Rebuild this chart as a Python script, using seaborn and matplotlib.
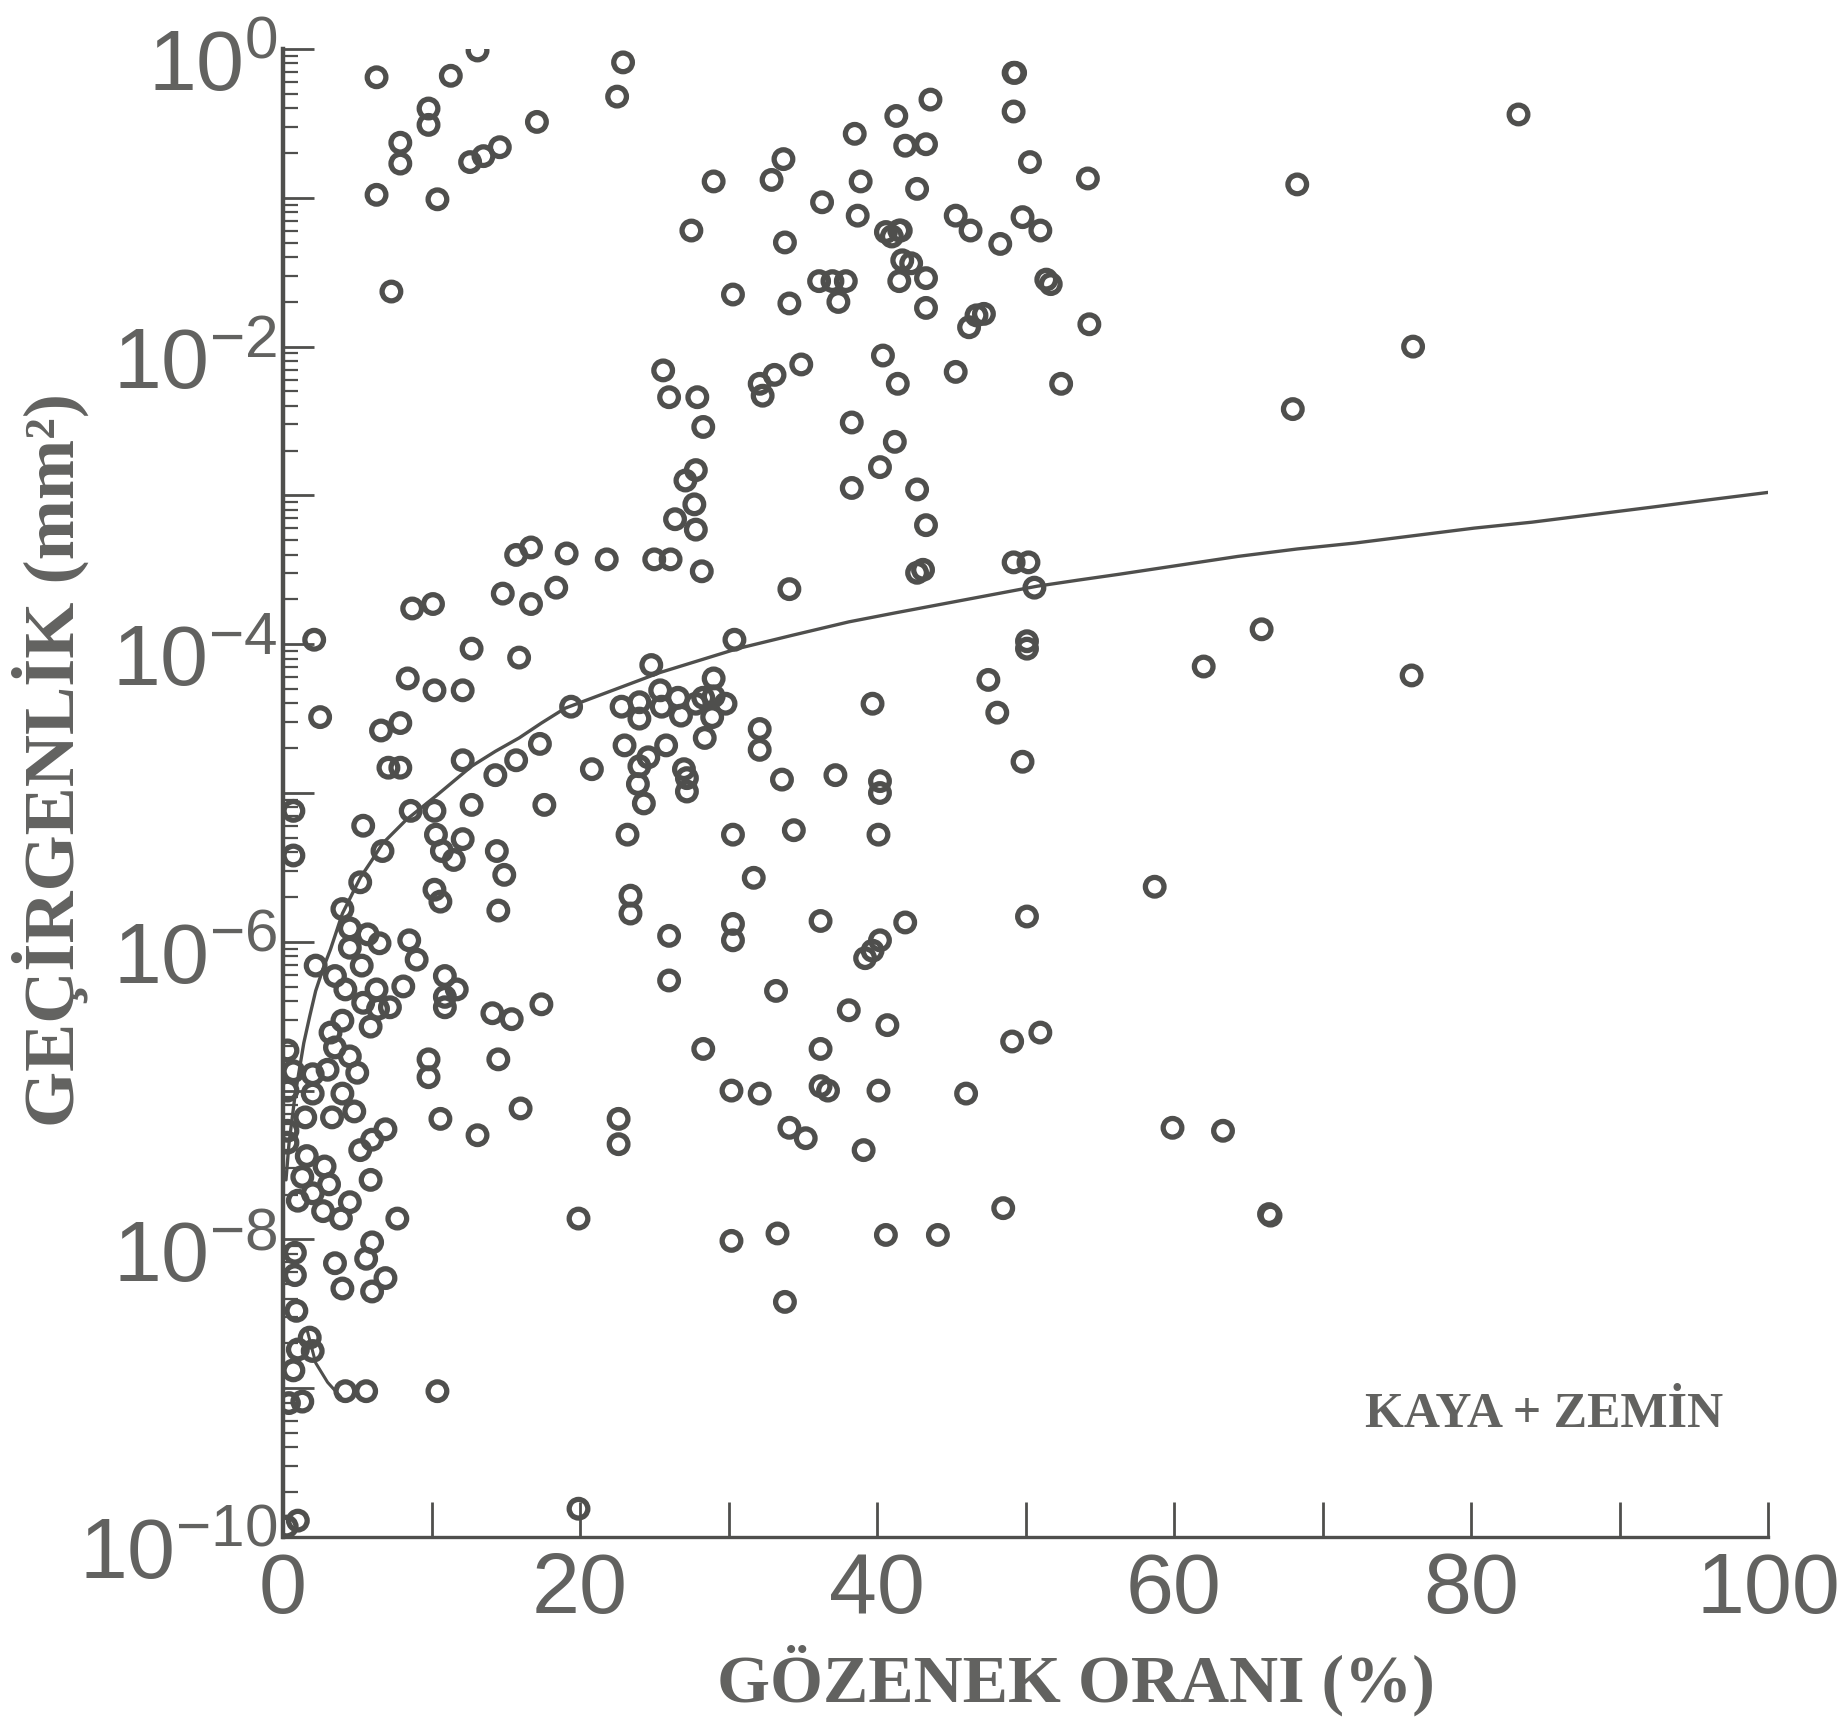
#!/usr/bin/env python3
# -*- coding: utf-8 -*-
import numpy as np
import pandas as pd
import seaborn as sns
import matplotlib.pyplot as plt
from matplotlib.ticker import FixedLocator, LogLocator, NullFormatter
from matplotlib.transforms import ScaledTranslation

# void ratio (%) and log10 of permeability (mm2)
upper_x = [6.3, 11.3, 13.1, 22.9, 22.5, 9.8, 9.8, 7.9, 7.9, 6.3, 10.4, 12.6, 13.5, 14.6, 17.1, 7.3,
           29.0, 27.5, 30.3, 32.9, 33.7, 33.8, 34.1, 36.3, 38.5, 38.9, 38.7, 36.1, 37.0, 37.9, 37.4,
           41.3, 43.6, 41.9, 43.3, 42.7, 40.6, 41.5, 41.0, 41.6, 41.7, 42.3, 41.5, 43.3, 43.3, 45.3, 46.3,
           48.3, 49.2, 49.3, 49.2, 50.3, 49.8, 51.0, 51.4, 51.7, 54.2, 54.3, 52.4, 45.3, 46.2, 46.7, 47.2,
           40.4, 41.4, 34.9, 33.1, 32.1, 32.3, 83.2, 68.3, 76.1, 68.0]
upper_e = [-0.19, -0.18, -0.01, -0.09, -0.32, -0.40, -0.51, -0.63, -0.77, -0.98, -1.01, -0.76, -0.72, -0.66, -0.49, -1.63,
           -0.89, -1.22, -1.65, -0.88, -0.74, -1.30, -1.71, -1.03, -0.57, -0.89, -1.12, -1.56, -1.56, -1.56, -1.70,
           -0.45, -0.34, -0.65, -0.64, -0.94, -1.23, -1.22, -1.26, -1.22, -1.42, -1.44, -1.56, -1.54, -1.74, -1.12, -1.22,
           -1.31, -0.16, -0.16, -0.42, -0.76, -1.13, -1.22, -1.55, -1.58, -0.87, -1.85, -2.25, -2.17, -1.87, -1.79, -1.78,
           -2.06, -2.25, -2.12, -2.19, -2.25, -2.33, -0.44, -0.91, -2.00, -2.42]

mid_x = [25.6, 26.0, 27.9, 28.3, 38.3, 41.2, 40.2, 38.3, 42.7, 43.3, 27.8, 27.1, 27.7, 26.4, 27.8, 25.0, 26.1, 28.2,
         21.8, 19.1, 16.7, 15.7, 18.4, 16.7, 14.8, 10.1, 8.7, 34.1, 42.7, 43.1, 49.2, 50.2, 50.6, 30.4, 2.1, 2.5,
         12.7, 15.9, 8.4, 10.2, 12.1, 7.9, 6.6, 7.1, 7.9, 12.1, 14.3, 15.7, 17.3, 19.4, 20.8, 17.6, 8.6, 10.2, 12.7,
         0.7, 0.7, 5.4, 6.7, 5.2, 4.0, 10.3, 12.1, 10.7, 11.5, 14.4, 14.9, 10.2, 10.6, 14.5,
         50.1, 50.1, 65.9, 62.0, 76.0, 47.5, 48.1, 49.8, 39.7, 58.7, 50.1, 41.9]
mid_e = [-2.16, -2.34, -2.34, -2.54, -2.51, -2.64, -2.81, -2.95, -2.96, -3.20, -2.83, -2.90, -3.06, -3.16, -3.23, -3.43, -3.43, -3.51,
         -3.43, -3.39, -3.35, -3.40, -3.62, -3.73, -3.66, -3.73, -3.76, -3.63, -3.52, -3.50, -3.45, -3.45, -3.62, -3.97, -3.97, -4.49,
         -4.03, -4.09, -4.23, -4.31, -4.31, -4.53, -4.58, -4.83, -4.83, -4.78, -4.88, -4.78, -4.67, -4.42, -4.84, -5.08, -5.12, -5.12, -5.08,
         -5.12, -5.42, -5.22, -5.39, -5.60, -5.78, -5.28, -5.31, -5.39, -5.45, -5.39, -5.55, -5.65, -5.73, -5.79,
         -3.98, -4.03, -3.90, -4.15, -4.21, -4.24, -4.46, -4.79, -4.40, -5.63, -5.83, -5.87]

cluster_x = [24.8, 22.8, 24.0, 24.0, 25.4, 25.5, 26.6, 26.8, 27.8, 28.3, 29.0, 29.0, 29.8, 28.4, 28.9, 25.8, 24.6, 23.0, 24.0, 23.9,
             24.3, 27.0, 27.2, 27.2, 32.1, 32.1, 33.6, 37.2, 40.2, 40.2, 30.3, 23.2, 34.4, 40.1, 31.7, 36.2, 30.3, 30.3, 23.4, 23.4,
             26.0, 40.2, 39.7, 39.2, 26.0, 33.2, 38.1, 40.7, 51.0, 49.1, 28.3, 36.2, 36.2, 36.7, 30.2, 32.1, 40.1, 46.0, 22.6, 22.6,
             34.1, 35.2, 39.1, 59.9, 63.3, 66.4, 66.5, 48.5, 19.9, 33.3, 30.2, 40.6, 44.1, 33.8, 10.4, 19.9]
cluster_e = [-4.14, -4.42, -4.39, -4.50, -4.31, -4.42, -4.36, -4.48, -4.40, -4.36, -4.23, -4.35, -4.40, -4.63, -4.49, -4.68, -4.76, -4.68, -4.82, -4.94,
             -5.07, -4.84, -4.90, -4.99, -4.57, -4.71, -4.91, -4.88, -4.92, -5.00, -5.28, -5.28, -5.25, -5.28, -5.57, -5.86, -5.88, -5.99, -5.69, -5.81,
             -5.96, -5.99, -6.06, -6.11, -6.26, -6.33, -6.46, -6.56, -6.61, -6.67, -6.72, -6.72, -6.97, -7.00, -7.00, -7.02, -7.00, -7.02, -7.19, -7.36,
             -7.25, -7.32, -7.40, -7.25, -7.27, -7.83, -7.84, -7.79, -7.86, -7.96, -8.01, -7.97, -7.97, -8.42, -9.02, -9.81]

low_x = [10.9, 11.7, 10.9, 10.9, 14.1, 15.4, 17.4, 14.5, 9.8, 9.8, 16.0, 10.6, 13.1,
         4.5, 5.7, 6.5, 4.5, 8.5, 9.0, 2.2, 5.3, 3.5, 4.2, 6.3, 8.1, 5.4, 7.2, 6.4, 4.0, 5.9, 3.2, 3.5, 4.5, 3.0, 5.0, 2.0, 0.3,
         0.7, 0.3, 2.0, 4.0, 4.8, 3.3, 1.5, 0.3, 0.3, 6.9, 6.0, 5.2, 1.6, 2.8, 1.3, 3.1, 5.9, 1.0, 2.0, 2.7, 4.5, 3.9, 7.7,
         6.0, 5.6, 3.5, 0.8, 0.8, 4.0, 6.0, 6.9, 0.9, 1.8, 1.0, 2.0, 0.7, 0.4, 1.3, 4.2, 5.6, 0.25, 1.0]
low_e = [-6.23, -6.32, -6.37, -6.44, -6.48, -6.52, -6.42, -6.79, -6.79, -6.91, -7.12, -7.19, -7.30,
         -5.91, -5.95, -6.01, -6.04, -5.99, -6.12, -6.16, -6.16, -6.23, -6.32, -6.32, -6.30, -6.41, -6.44, -6.45, -6.53, -6.57, -6.61, -6.71, -6.77, -6.86, -6.88, -6.89, -6.73,
         -6.87, -7.00, -7.02, -7.02, -7.14, -7.18, -7.18, -7.27, -7.35, -7.26, -7.33, -7.40, -7.44, -7.51, -7.58, -7.63, -7.60, -7.74, -7.69, -7.81, -7.75, -7.86, -7.86,
         -8.02, -8.13, -8.16, -8.09, -8.24, -8.33, -8.35, -8.26, -8.48, -8.66, -8.74, -8.75, -8.88, -9.10, -9.09, -9.02, -9.02, -9.93, -9.89]

# trend line
curve_x = [0.2, 0.4, 0.8, 1.4, 1.8, 2.2, 2.7, 3.2, 4.0, 4.6, 5.2, 6.0, 6.7, 7.5, 8.3, 9.3, 10.3, 11.5, 12.7, 14.3, 15.9,
           17.4, 19.0, 20.6, 22.2, 23.8, 25.4, 28.0, 30.6, 34.3, 38.1, 41.2, 44.4, 47.6, 50.8, 53.5, 56.3, 60.3, 64.3,
           68.3, 72.2, 76.2, 80.2, 84.1, 88.1, 92.1, 96.0, 100.0]
curve_e = [-7.6, -7.36, -7.04, -6.68, -6.50, -6.33, -6.18, -6.05, -5.81, -5.69, -5.57, -5.45, -5.34, -5.26, -5.18, -5.10, -5.02, -4.92, -4.82, -4.72, -4.63,
           -4.53, -4.43, -4.37, -4.31, -4.25, -4.19, -4.11, -4.03, -3.94, -3.85, -3.79, -3.73, -3.67, -3.61, -3.57, -3.53, -3.47, -3.41,
           -3.36, -3.32, -3.27, -3.22, -3.18, -3.13, -3.08, -3.03, -2.98]
tail_x = [1.6, 2.2, 3.0, 3.9]
tail_e = [-8.6, -8.83, -8.96, -9.06]

x_labels = ["0", "20", "40", "60", "80", "100"]
y_decades = [0, -1, -2, -3, -4, -5, -6, -7, -8, -9, -10]
y_labels = [r"$10^{0}$", "", r"$10^{-2}$", "", r"$10^{-4}$", "", r"$10^{-6}$", "",
            r"$10^{-8}$", "", r"$10^{-10}$"]

INK = "#4f4f4d"
TEXT_INK = "#626260"

sns.set_theme(style="ticks")
plt.rcParams["font.family"] = ["Liberation Sans", "DejaVu Sans"]
plt.rcParams["mathtext.fontset"] = "custom"
plt.rcParams["mathtext.rm"] = "Liberation Sans"
plt.rcParams["mathtext.default"] = "regular"

df = pd.DataFrame({"x": upper_x + mid_x + cluster_x + low_x,
                   "k": 10.0 ** np.array(upper_e + mid_e + cluster_e + low_e)})

fig = plt.figure(figsize=(18.48, 17.17), dpi=100)
ax = fig.add_axes([283 / 1848, 180 / 1717, 1485 / 1848, 1488 / 1717])

ax.plot(curve_x, 10.0 ** np.array(curve_e), color=INK, lw=2.4)
ax.plot(tail_x, 10.0 ** np.array(tail_e), color=INK, lw=2.2)
sns.scatterplot(data=df, x="x", y="k", ax=ax, marker="o", s=180, facecolor="none",
                edgecolor=INK, linewidth=3.8, legend=False, zorder=3)

ax.set_yscale("log")
ax.set_xlim(0, 100)
ax.set_ylim(1e-10, 1)
ax.set_xlabel("")
ax.set_ylabel("")

ax.set_xticks([0, 20, 40, 60, 80, 100])
ax.set_xticklabels(x_labels)
ax.xaxis.set_minor_locator(FixedLocator([10, 30, 50, 70, 90]))
ax.set_yticks([10.0 ** e for e in y_decades])
ax.set_yticklabels(y_labels)
ax.yaxis.set_minor_locator(LogLocator(base=10, subs=np.arange(2, 10) * 0.1, numticks=30))
ax.yaxis.set_minor_formatter(NullFormatter())

ax.tick_params(axis="x", which="both", direction="in", length=25, width=2, color=INK,
               labelsize=62, labelcolor=TEXT_INK, pad=10)
ax.tick_params(axis="y", which="major", direction="in", length=22, width=2, color=INK,
               labelsize=62, labelcolor=TEXT_INK, pad=4)
ax.tick_params(axis="y", which="minor", direction="in", length=11, width=1.6, color=INK)

# the printed y labels sit a little below their ticks
for label in ax.get_yticklabels():
    label.set_transform(label.get_transform() + ScaledTranslation(0, -8 / 72, fig.dpi_scale_trans))

sns.despine(ax=ax)
ax.spines["left"].set_linewidth(3.2)
ax.spines["bottom"].set_linewidth(2.4)
ax.spines["left"].set_color(INK)
ax.spines["bottom"].set_color(INK)

fig.text(0.5 * (718 + 1433) / 1848, 1 - 1680 / 1717, "GÖZENEK ORANI (%)", family="Liberation Serif",
         weight="bold", size=49, color=TEXT_INK, ha="center", va="center")
fig.text(50 / 1848, 1 - 760 / 1717, "GEÇİRGENLİK (mm²)", family="Liberation Serif",
         weight="bold", size=52, color=TEXT_INK, rotation=90, ha="center", va="center")
ax.text(84.9, 10.0 ** -9.18, "KAYA + ZEMİN", family="Liberation Serif", weight="bold",
        size=36, color=TEXT_INK, ha="center", va="center")

fig.savefig("out.png", dpi=100, facecolor="white")
